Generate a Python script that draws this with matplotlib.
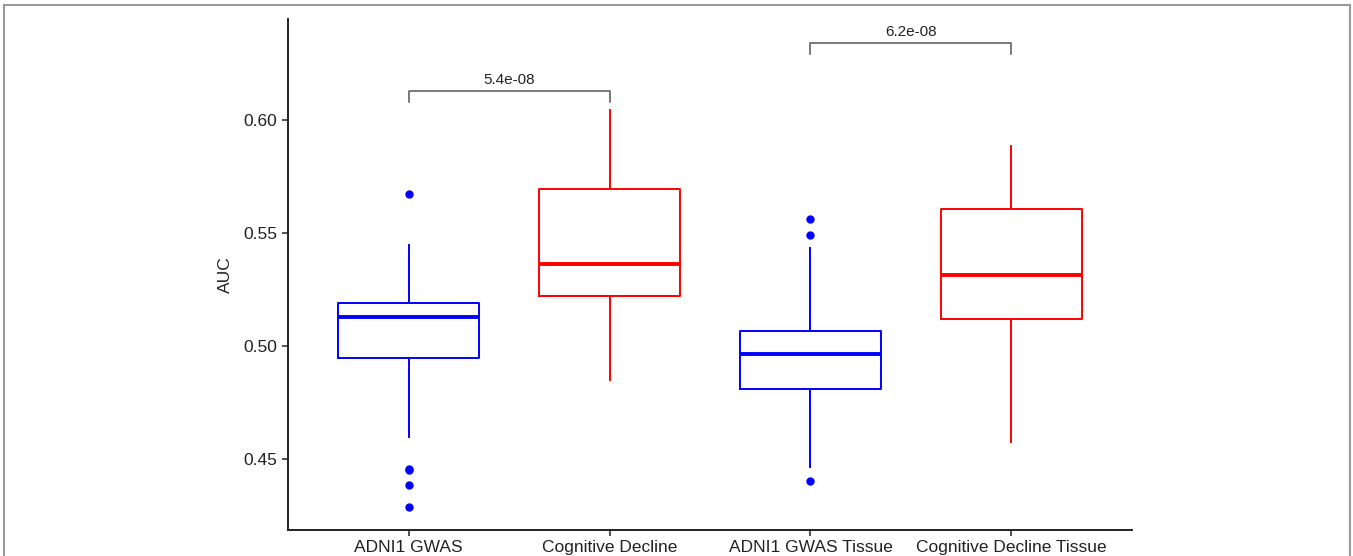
import matplotlib
matplotlib.use("Agg")
import matplotlib.pyplot as plt
from matplotlib.patches import Rectangle

plt.rcParams['font.family'] = ['Liberation Sans', 'DejaVu Sans']

# box statistics
groups = ['ADNI1 GWAS', 'Cognitive Decline', 'ADNI1 GWAS Tissue', 'Cognitive Decline Tissue']
colors = ['#0000FF', '#FF0000', '#0000FF', '#FF0000']
whislo = [0.4597, 0.4848, 0.4465, 0.4575]
q1 = [0.4948, 0.5223, 0.4808, 0.5119]
med = [0.5128, 0.5361, 0.4962, 0.5312]
q3 = [0.5192, 0.5696, 0.5068, 0.5607]
whishi = [0.5445, 0.6042, 0.5435, 0.5884]
fliers = [[0.5674, 0.4455, 0.4449, 0.4385, 0.4288], [], [0.5560, 0.5491, 0.4401], []]

# significance brackets: (left group, right group, y, p label)
comparisons = [(1, 2, 0.6130, '5.4e-08'), (3, 4, 0.6341, '6.2e-08')]
bracket_drop = 0.0051

fig = plt.figure(figsize=(13.53, 5.56), dpi=100)
ax = fig.add_axes([288 / 1353, 1 - 530 / 556, (1132 - 288) / 1353, (530 - 19) / 556])

for i in range(len(groups)):
    st = [dict(whislo=whislo[i], q1=q1[i], med=med[i], q3=q3[i], whishi=whishi[i], fliers=fliers[i])]
    c = colors[i]
    ax.bxp(st, positions=[i + 1], widths=0.705, showcaps=False,
           boxprops=dict(color=c, lw=1.4),
           whiskerprops=dict(color=c, lw=1.4),
           medianprops=dict(color=c, lw=2.8, solid_capstyle='butt'),
           flierprops=dict(marker='o', markerfacecolor=c, markeredgecolor=c, markersize=5))

for a, b, y, lab in comparisons:
    ax.plot([a, a, b, b], [y - bracket_drop, y, y, y - bracket_drop], color='#555555', lw=1.1)
    ax.text((a + b) / 2, y + 0.0018, lab, ha='center', va='bottom', fontsize=11, color='#222222')

ax.set_xlim(0.4, 4.6)
ax.set_ylim(0.4185, 0.6447)
ax.set_xticks(range(1, len(groups) + 1))
ax.set_xticklabels(groups)
ax.set_yticks([0.45, 0.50, 0.55, 0.60])
ax.set_yticklabels(['0.45', '0.50', '0.55', '0.60'])
ax.tick_params(axis='both', labelsize=12.5, colors='#333333', labelcolor='#222222', length=4, width=1.2)
ax.tick_params(axis='x', pad=3)
ax.set_ylabel('AUC', fontsize=12.5, color='#222222', labelpad=8)
for s in ['top', 'right']:
    ax.spines[s].set_visible(False)
for s in ['left', 'bottom']:
    ax.spines[s].set_color('#222222')
    ax.spines[s].set_linewidth(1.4)

fig.patches.append(Rectangle((4 / 1353, -0.02), (1349.5 - 4) / 1353, 1.02 - 4.5 / 556,
                             transform=fig.transFigure, fill=False, edgecolor='#999999', lw=1.5))

fig.savefig('out.png', dpi=100)
